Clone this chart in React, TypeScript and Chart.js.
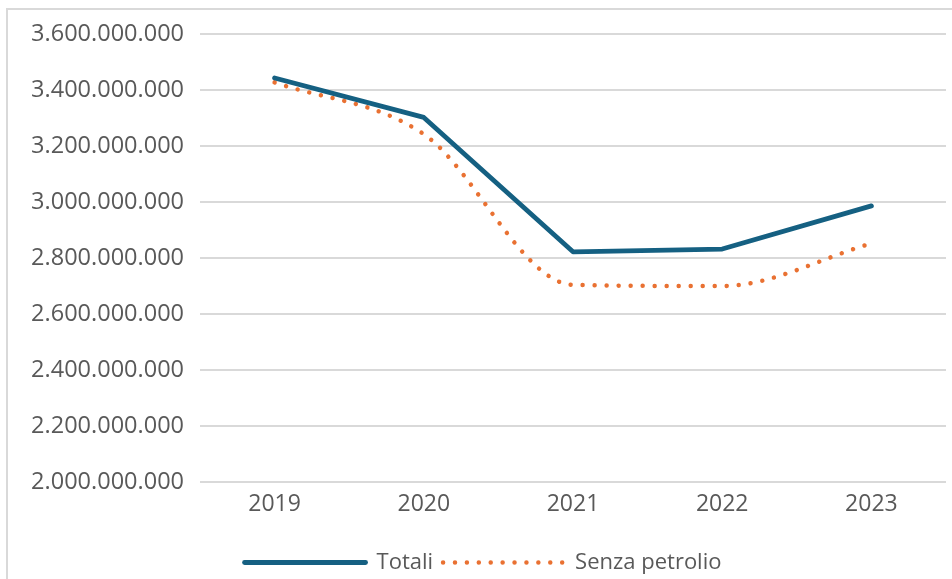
import React, { useEffect, useRef } from "react";
import { Chart, registerables } from "chart.js";

Chart.register(...registerables);

const years = ["2019", "2020", "2021", "2022", "2023"];
const totali = [3443000000, 3302000000, 2822000000, 2832000000, 2986000000];
const senzaPetrolio = [3427000000, 3242000000, 2704000000, 2700000000, 2852000000];
const yMin = 2000000000;
const yMax = 3600000000;
const yStep = 200000000;
const seriesNames = ["Totali", "Senza petrolio"];

const fmt = (v: number) =>
  Math.round(v)
    .toString()
    .replace(/\B(?=(\d{3})+(?!\d))/g, ".");

export default function App() {
  const ref = useRef<HTMLCanvasElement>(null);
  useEffect(() => {
    const font = "'Open Sans', 'DejaVu Sans', sans-serif";
    const chart = new Chart(ref.current as HTMLCanvasElement, {
      type: "line",
      data: {
        labels: years,
        datasets: [
          {
            label: seriesNames[0],
            data: totali,
            borderColor: "#156082",
            backgroundColor: "#156082",
            borderWidth: 4.8,
            pointRadius: 0,
            tension: 0,
            borderCapStyle: "round",
            borderJoinStyle: "round",
          },
          {
            label: seriesNames[1],
            data: senzaPetrolio,
            borderColor: "#E97132",
            backgroundColor: "#E97132",
            borderWidth: 4.5,
            borderDash: [0.01, 12],
            borderCapStyle: "round",
            pointRadius: 0,
            cubicInterpolationMode: "monotone",
          },
        ],
      },
      options: {
        animation: false,
        responsive: true,
        maintainAspectRatio: false,
        layout: { padding: { left: 20, right: 6, top: 34, bottom: 16.5 } },
        plugins: {
          legend: {
            position: "bottom",
            labels: {
              usePointStyle: true,
              pointStyle: "line",
              pointStyleWidth: 121,
              color: "#595959",
              font: { family: font, size: 22 },
              padding: 10,
              generateLabels: (c: any) => {
                const items = Chart.defaults.plugins.legend.labels.generateLabels(c);
                return items.map((it: any, i: number) => {
                  const ds = c.data.datasets[i];
                  return {
                    ...it,
                    strokeStyle: ds.borderColor,
                    fillStyle: ds.borderColor,
                    lineWidth: ds.borderWidth,
                    lineDash: ds.borderDash ? [0.01, 11.9] : [],
                    lineCap: "round",
                    pointStyle: "line",
                  };
                });
              },
            },
          },
          tooltip: { enabled: false },
        },
        scales: {
          x: {
            offset: true,
            grid: { display: false },
            border: { display: false },
            ticks: { color: "#595959", font: { family: font, size: 23 }, padding: 1 },
            afterFit: (s: any) => {
              s.height = 59.5;
            },
          },
          y: {
            min: yMin,
            max: yMax,
            ticks: {
              stepSize: yStep,
              color: "#595959",
              font: { family: font, size: 23.5 },
              padding: 16,
              callback: (v: any) => fmt(Number(v)),
            },
            grid: { color: "#d9d9d9", lineWidth: 2, drawTicks: false },
            border: { display: false },
            afterFit: (s: any) => {
              s.width = 180;
            },
          },
        },
      },
    } as any);
    return () => chart.destroy();
  }, []);

  return (
    <div style={{ position: "fixed", left: 0, top: 0, width: 952, height: 579, overflow: "hidden", background: "#fff" }}>
      <div
        style={{
          position: "absolute",
          left: 6,
          top: 8,
          width: 946,
          height: 571,
          borderLeft: "2px solid #d9d9d9",
          borderTop: "2px solid #d9d9d9",
          boxSizing: "border-box",
        }}
      />
      <div style={{ position: "absolute", left: 0, top: 0, width: 952, height: 600 }}>
        <canvas ref={ref} />
      </div>
    </div>
  );
}
